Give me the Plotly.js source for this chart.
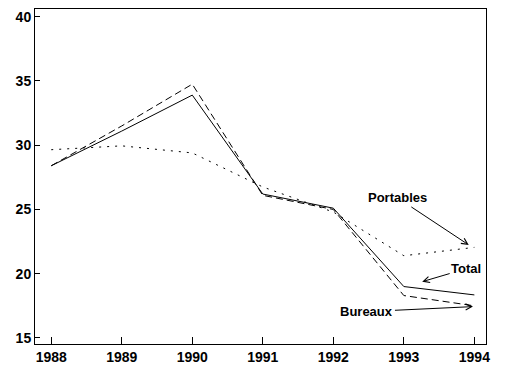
<!DOCTYPE html>
<html>
<head>
<meta charset="utf-8">
<script src="https://cdn.plot.ly/plotly-3.0.1.min.js"></script>
<style>html,body{margin:0;padding:0;background:#fff;}#chart{width:532px;height:375px;}</style>
</head>
<body>
<div id="chart"></div>
<script>
const years = [1988, 1989, 1990, 1991, 1992, 1993, 1994];
const total = [28.4, 31.1, 33.9, 26.2, 25.1, 19.0, 18.35];
const bureaux = [28.4, 31.5, 34.75, 26.1, 25.0, 18.3, 17.5];
const portables = [29.65, 29.95, 29.4, 26.75, 24.8, 21.4, 22.05];
const yTicks = [15, 20, 25, 30, 35, 40];

const font = {family: 'Liberation Sans, Arial, sans-serif', size: 14, color: '#000'};

const traces = [
  {x: years, y: total, name: 'Total', mode: 'lines', line: {color: '#000', width: 1}},
  {x: years, y: bureaux, name: 'Bureaux', mode: 'lines', line: {color: '#000', width: 1, dash: '7px,4px'}},
  {x: years, y: portables, name: 'Portables', mode: 'lines', line: {color: '#000', width: 1, dash: '2px,6px'}}
];

const annFont = {family: 'Liberation Sans, Arial, sans-serif', size: 13, color: '#000', weight: 'bold'};
const layout = {
  width: 532, height: 375,
  margin: {l: 35, r: 46, t: 9, b: 31},
  paper_bgcolor: '#fff', plot_bgcolor: '#fff',
  showlegend: false,
  font: font,
  xaxis: {
    range: [1987.77, 1994.165], tickvals: years, ticktext: years.map(String),
    ticks: 'inside', ticklen: 7, tickcolor: '#000', tickwidth: 1,
    showline: true, mirror: true, linecolor: '#000', linewidth: 1,
    showgrid: false, zeroline: false,
    tickfont: {family: font.family, size: 14, color: '#000', weight: 'bold'}
  },
  yaxis: {
    range: [14.53, 40.6], tickvals: yTicks,
    ticks: 'inside', ticklen: 5, tickcolor: '#000', tickwidth: 1,
    showline: true, mirror: true, linecolor: '#000', linewidth: 1,
    showgrid: false, zeroline: false,
    tickfont: {family: font.family, size: 14, color: '#000', weight: 'bold'}
  },
  annotations: [
    {x: 1993.92, y: 22.24, text: 'Portables', showarrow: true, ax: -71, ay: -47,
     arrowhead: 5, arrowsize: 1.2, arrowwidth: 1, arrowcolor: '#000', font: annFont},
    {x: 1993.26, y: 19.38, text: 'Total', showarrow: true, ax: 44, ay: -13,
     arrowhead: 5, arrowsize: 1.2, arrowwidth: 1, arrowcolor: '#000', font: annFont},
    {x: 1993.98, y: 17.44, text: 'Bureaux', showarrow: true, ax: -106, ay: 5,
     arrowhead: 5, arrowsize: 1.2, arrowwidth: 1, arrowcolor: '#000', font: annFont}
  ]
};

Plotly.newPlot('chart', traces, layout, {displayModeBar: false, staticPlot: true});
</script>
</body>
</html>
